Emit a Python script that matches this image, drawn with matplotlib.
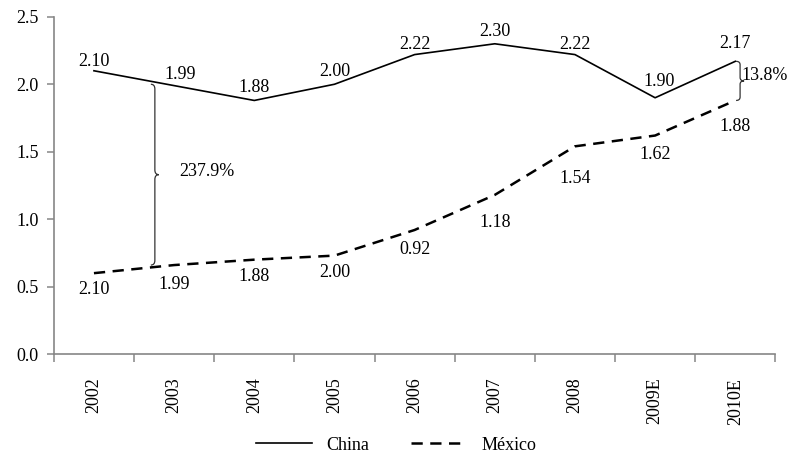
import numpy as np
import matplotlib
matplotlib.use("Agg")
import matplotlib.pyplot as plt
from matplotlib.path import Path
from matplotlib.patches import PathPatch

plt.rcParams["font.family"] = ["Liberation Serif", "DejaVu Serif"]

# ── Data ──────────────────────────────────────────────────────────────────────
years = ["2002", "2003", "2004", "2005", "2006", "2007", "2008", "2009E", "2010E"]
china = [2.10, 1.99, 1.88, 2.00, 2.22, 2.30, 2.22, 1.90, 2.17]
mexico = [0.60, 0.66, 0.70, 0.73, 0.92, 1.18, 1.54, 1.62, 1.88]
china_labels = ["2.10", "1.99", "1.88", "2.00", "2.22", "2.30", "2.22", "1.90", "2.17"]
mexico_labels = ["2.10", "1.99", "1.88", "2.00", "0.92", "1.18", "1.54", "1.62", "1.88"]
gap_labels = ["237.9%", "13.8%"]
yticks = [0.0, 0.5, 1.0, 1.5, 2.0, 2.5]

# label offsets (points) as placed in the original
china_dy = [7, 8, 9, 9, 7, 9, 7, 11.5, 13]
china_dx = [0, 4, 0, 0, 0, 0, 0, 3, 0]
mexico_dy = [12, 14, 12, 12, 14, 20, 23, 14, 19]

GRAY = "#868686"
FS = 13


def draw_brace(ax, x, y0, y1, dx=0.05, h=0.035):
    # "}" shaped brace from y0 (bottom) to y1 (top) at data x
    ym = (y0 + y1) / 2
    verts = [
        (x - dx, y1), (x, y1), (x, y1 - h),
        (x, ym + h),
        (x, ym), (x + dx, ym),
        (x, ym), (x, ym - h),
        (x, y0 + h),
        (x, y0), (x - dx, y0),
    ]
    codes = [
        Path.MOVETO, Path.CURVE3, Path.CURVE3,
        Path.LINETO,
        Path.CURVE3, Path.CURVE3,
        Path.CURVE3, Path.CURVE3,
        Path.LINETO,
        Path.CURVE3, Path.CURVE3,
    ]
    ax.add_patch(PathPatch(Path(verts, codes), fill=False, lw=0.9, color="#333333"))
    return ym


fig = plt.figure(figsize=(7.92, 4.54), dpi=100)
ax = fig.add_axes([0.068, 0.22, 0.911, 0.743])

x = np.arange(len(years))
ax.plot(x, china, color="black", lw=1.2, label="China")
ax.plot(x, mexico, color="black", lw=1.8, ls=(0, (4.5, 3)), label="México")

for xi, v, lab, dx, dy in zip(x, china, china_labels, china_dx, china_dy):
    ax.annotate(lab, (xi, v), xytext=(dx, dy), textcoords="offset points",
                ha="center", va="center", fontsize=FS)
for xi, v, lab, dy in zip(x, mexico, mexico_labels, mexico_dy):
    ax.annotate(lab, (xi, v), xytext=(0, -dy), textcoords="offset points",
                ha="center", va="center", fontsize=FS)

# gap braces
ym = draw_brace(ax, 0.76, mexico[1], 2.0)
ax.text(1.07, ym + 0.02, gap_labels[0], ha="left", va="center", fontsize=FS)
ym = draw_brace(ax, 8.06, mexico[8], china[8], h=0.025)
ax.text(8.08, ym + 0.04, gap_labels[1], ha="left", va="center", fontsize=FS)

ax.set_xlim(-0.5, len(years) - 0.5)
ax.set_ylim(0, 2.5)
ax.set_yticks(yticks)
ax.set_yticklabels([f"{t:.1f}" for t in yticks], fontsize=FS)
ax.set_xticks(x)
ax.set_xticklabels(years, rotation=90, fontsize=FS)
ax.set_xticks(np.arange(len(years) + 1) - 0.5, minor=True)
ax.tick_params(axis="x", which="major", length=0, pad=17)
ax.tick_params(axis="x", which="minor", length=5.5, width=1.1, color=GRAY, direction="out")
ax.tick_params(axis="y", length=5, width=1.1, color=GRAY, pad=6)

for s in ["top", "right"]:
    ax.spines[s].set_visible(False)
for s in ["left", "bottom"]:
    ax.spines[s].set_color(GRAY)
    ax.spines[s].set_linewidth(1.2)

fig.legend(loc="lower center", bbox_to_anchor=(0.5, -0.035), ncol=2, frameon=False,
           fontsize=FS, handlelength=3.1, handletextpad=0.8, columnspacing=2.3)

fig.savefig("out.png", dpi=100)
